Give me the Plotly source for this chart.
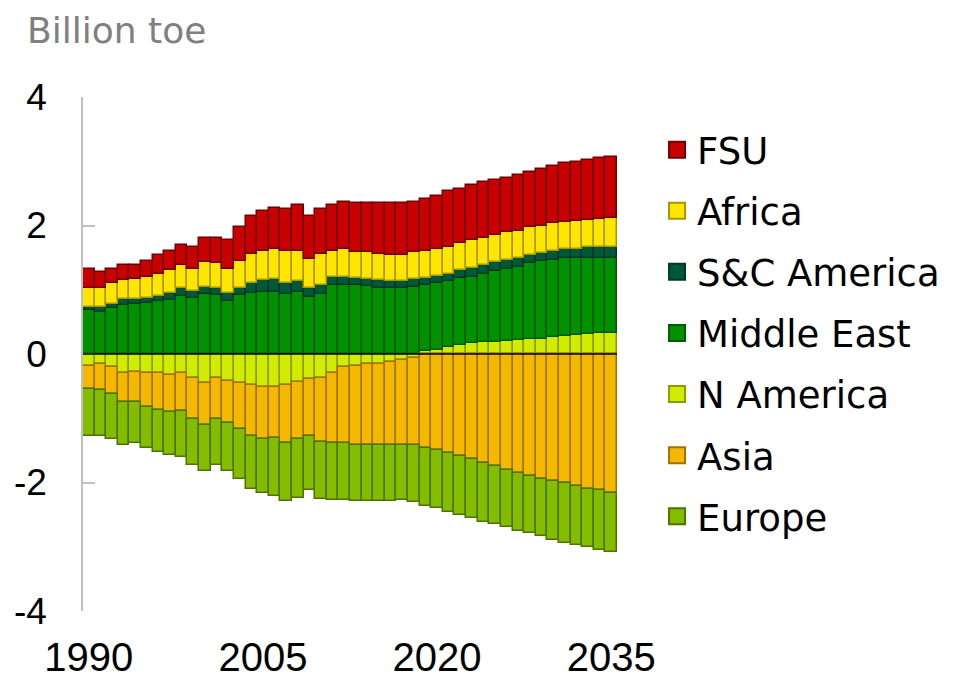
import plotly.graph_objects as go

YEARS = list(range(1990, 2036))

# net imports (+) / exports (-), billion toe
N_AMERICA = [-0.18, -0.16, -0.21, -0.29, -0.28, -0.29, -0.29, -0.32, -0.30, -0.37,
             -0.45, -0.38, -0.42, -0.45, -0.49, -0.52, -0.52, -0.49, -0.44, -0.39,
             -0.37, -0.29, -0.21, -0.18, -0.16, -0.15, -0.12, -0.09, -0.06, 0.04,
             0.07, 0.11, 0.14, 0.17, 0.18, 0.19, 0.20, 0.22, 0.23, 0.24,
             0.26, 0.28, 0.30, 0.31, 0.32, 0.33]
MIDDLE_EAST = [0.68, 0.66, 0.72, 0.77, 0.78, 0.79, 0.82, 0.84, 0.90, 0.87,
               0.93, 0.92, 0.82, 0.92, 0.95, 0.97, 0.97, 0.94, 0.97, 0.88,
               0.94, 1.08, 1.08, 1.07, 1.06, 1.03, 1.02, 1.02, 1.04, 1.03,
               1.03, 1.03, 1.04, 1.03, 1.06, 1.10, 1.13, 1.14, 1.18, 1.20,
               1.21, 1.22, 1.20, 1.19, 1.18, 1.17]
SC_AMERICA = [0.05, 0.07, 0.06, 0.08, 0.07, 0.08, 0.08, 0.11, 0.12, 0.11,
              0.11, 0.10, 0.13, 0.11, 0.16, 0.18, 0.19, 0.17, 0.17, 0.15,
              0.14, 0.12, 0.12, 0.12, 0.10, 0.12, 0.12, 0.12, 0.12, 0.11,
              0.11, 0.11, 0.12, 0.14, 0.14, 0.14, 0.14, 0.14, 0.13, 0.13,
              0.13, 0.13, 0.14, 0.16, 0.16, 0.17]
AFRICA = [0.30, 0.30, 0.33, 0.30, 0.31, 0.33, 0.34, 0.36, 0.37, 0.35,
          0.39, 0.39, 0.38, 0.42, 0.45, 0.46, 0.48, 0.49, 0.47, 0.45,
          0.48, 0.41, 0.43, 0.40, 0.42, 0.41, 0.40, 0.40, 0.42, 0.42,
          0.42, 0.42, 0.43, 0.44, 0.43, 0.42, 0.43, 0.42, 0.43, 0.43,
          0.44, 0.43, 0.43, 0.42, 0.44, 0.44]
FSU = [0.30, 0.25, 0.22, 0.24, 0.23, 0.24, 0.30, 0.29, 0.30, 0.34,
       0.37, 0.39, 0.44, 0.52, 0.59, 0.62, 0.64, 0.66, 0.71, 0.67,
       0.70, 0.71, 0.73, 0.76, 0.77, 0.79, 0.81, 0.81, 0.79, 0.82,
       0.83, 0.86, 0.84, 0.85, 0.86, 0.86, 0.84, 0.86, 0.87, 0.88,
       0.89, 0.91, 0.92, 0.94, 0.95, 0.96]
ASIA = [-0.36, -0.40, -0.42, -0.46, -0.47, -0.53, -0.58, -0.59, -0.59, -0.64,
        -0.66, -0.63, -0.66, -0.72, -0.78, -0.80, -0.78, -0.89, -0.89, -0.88,
        -1.00, -1.10, -1.18, -1.24, -1.26, -1.27, -1.30, -1.32, -1.36, -1.46,
        -1.49, -1.54, -1.59, -1.64, -1.70, -1.74, -1.80, -1.85, -1.90, -1.94,
        -1.98, -2.01, -2.05, -2.10, -2.12, -2.16]
EUROPE = [-0.73, -0.71, -0.70, -0.66, -0.64, -0.65, -0.66, -0.66, -0.72, -0.71,
          -0.71, -0.72, -0.74, -0.78, -0.83, -0.85, -0.91, -0.91, -0.91, -0.84,
          -0.89, -0.88, -0.88, -0.87, -0.87, -0.87, -0.87, -0.86, -0.89, -0.91,
          -0.90, -0.92, -0.92, -0.92, -0.91, -0.91, -0.90, -0.90, -0.89, -0.90,
          -0.91, -0.93, -0.93, -0.91, -0.93, -0.92]

Y_TICKS = [-4, -2, 0, 2, 4]
Y_LABELS = ["-4", "-2", "0", "2", "4"]
X_TICKS = [1990, 2005, 2020, 2035]

# stacking order (bottom up for imports, top down for exports), legend rank, fill, edge
SERIES = [
    ("N America", N_AMERICA, 5, "#D2EC00", "#8A9C00"),
    ("Middle East", MIDDLE_EAST, 4, "#009000", "#005A00"),
    ("S&C America", SC_AMERICA, 3, "#00583A", "#003822"),
    ("Africa", AFRICA, 2, "#FFE600", "#A89600"),
    ("FSU", FSU, 1, "#C80000", "#700000"),
    ("Asia", ASIA, 6, "#F5B800", "#9E7400"),
    ("Europe", EUROPE, 7, "#84BC00", "#4E7200"),
]

FONT = "Liberation Sans, Arial, sans-serif"
TEXT_FONT = "DejaVu Sans, sans-serif"

fig = go.Figure()
for name, vals, rank, col, edge in SERIES:
    fig.add_trace(go.Bar(x=YEARS, y=vals, name=name, showlegend=False,
                         marker=dict(color=col, line=dict(color=edge, width=1.5))))
    # legend-only marker so the key squares can be bigger than the bar default
    fig.add_trace(go.Scatter(x=[None], y=[None], name=name, mode="markers",
                             legendrank=rank, legendgroup=name,
                             marker=dict(symbol="square", size=16, color=col,
                                         line=dict(color=edge, width=2))))

fig.add_shape(type="line", xref="paper", x0=0, x1=1, y0=0, y1=0,
              line=dict(color="black", width=1.5), layer="above")

# page body adds an 8px offset, margins are set to compensate
fig.update_layout(
    width=954, height=682,
    margin=dict(l=75, r=345, t=89, b=79, autoexpand=False),
    barmode="relative", bargap=0,
    plot_bgcolor="white", paper_bgcolor="white",
    font=dict(family=FONT, color="black"),
    title=dict(text="Billion toe", x=0.02, xanchor="left", xref="container",
               y=0.986, yanchor="top", yref="container",
               font=dict(family=TEXT_FONT, size=36, color="#808080")),
    legend=dict(x=1.075, xanchor="left", y=0.957, yanchor="top",
                traceorder="grouped", tracegroupgap=10, itemsizing="trace",
                font=dict(family=TEXT_FONT, size=37), bgcolor="rgba(0,0,0,0)"),
    xaxis=dict(range=[1989.5, 2035.5], tickvals=X_TICKS, automargin=False,
               showline=False, ticks="", showgrid=False, zeroline=False,
               ticklabelstandoff=19, tickfont=dict(size=40)),
    yaxis=dict(range=[-4, 4], tickvals=Y_TICKS, ticktext=Y_LABELS, automargin=False,
               showline=True, linecolor="#BFBFBF", linewidth=1.5,
               ticks="inside", ticklen=12, tickcolor="#BFBFBF", tickwidth=1.5,
               showgrid=False, zeroline=False,
               ticklabelstandoff=27, tickfont=dict(size=37)),
)

fig.write_html("out.html")
